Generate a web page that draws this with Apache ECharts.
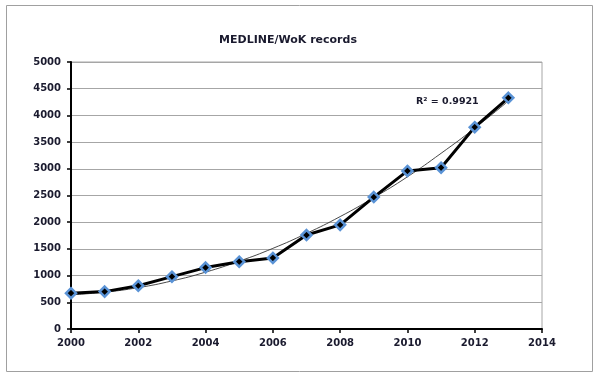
<!DOCTYPE html>
<html>
<head>
<meta charset="utf-8">
<script src="https://cdn.jsdelivr.net/npm/echarts@6/dist/echarts.min.js"></script>
<style>
  html, body { margin: 0; padding: 0; background: #fff; }
  #main { width: 600px; height: 378px; }
</style>
</head>
<body>
<div id="main"></div>
<script>
// values
var years = [2000, 2001, 2002, 2003, 2004, 2005, 2006, 2007, 2008, 2009, 2010, 2011, 2012, 2013];
var records = [670, 700, 810, 980, 1150, 1260, 1330, 1760, 1950, 2470, 2960, 3020, 3780, 4330];
// thin trend line (Excel poly fit), as seen at each year
var trend = [640, 690, 775, 900, 1065, 1270, 1510, 1790, 2105, 2460, 2850, 3290, 3760, 4270];
var yTicks = [0, 500, 1000, 1500, 2000, 2500, 3000, 3500, 4000, 4500, 5000];
var xTicks = [2000, 2002, 2004, 2006, 2008, 2010, 2012, 2014];

var txtColor = '#1a1a2e';
var lblFont = { color: txtColor, fontFamily: 'DejaVu Sans', fontWeight: 'bold', fontSize: 10 };

var pairs = function(xs, ys){
	var out = [];
	for (var i = 0; i < xs.length; i++) {
		out.push([xs[i], ys[i]]);
	}
	return out;
}
var plain = function(v){ return String(v); };

var chart = echarts.init(document.getElementById('main'));
chart.setOption({
	animation: false,
	backgroundColor: '#fff',
	title: {
		text: 'MEDLINE/WoK records',
		left: 283, top: 30, textAlign: 'center',
		textStyle: { color: txtColor, fontFamily: 'DejaVu Sans', fontWeight: 'bold', fontSize: 11 }
	},
	grid: { left: 71, right: 58, top: 62, bottom: 49, show: true, borderColor: '#a6a6a6', borderWidth: 1 },
	xAxis: {
		type: 'value', min: xTicks[0], max: xTicks[xTicks.length - 1], interval: 2,
		axisLine: { onZero: false, lineStyle: { color: '#000', width: 2 } },
		axisTick: { show: true, length: 4, lineStyle: { color: '#000', width: 1.5 } },
		splitLine: { show: false },
		axisLabel: Object.assign({ margin: 9, formatter: plain }, lblFont)
	},
	yAxis: {
		type: 'value', min: yTicks[0], max: yTicks[yTicks.length - 1], interval: 500,
		axisLine: { show: true, lineStyle: { color: '#000', width: 2 } },
		axisTick: { show: true, length: 4, lineStyle: { color: '#000', width: 1.5 } },
		splitLine: { lineStyle: { color: '#a6a6a6', width: 1 } },
		axisLabel: Object.assign({ margin: 10, formatter: plain }, lblFont)
	},
	series: [
		{
			type: 'line', data: pairs(years, trend), smooth: true, symbol: 'none',
			lineStyle: { color: '#333', width: 0.9 }, z: 3
		},
		{
			type: 'line', data: pairs(years, records), symbol: 'diamond', symbolSize: 10,
			lineStyle: { color: '#000', width: 3 },
			itemStyle: { color: '#000', borderColor: '#5a93d6', borderWidth: 2.5 }, z: 4
		}
	],
	graphic: [
		{ type: 'rect', shape: { x: 6.5, y: 5.5, width: 586, height: 366 }, style: { fill: 'none', stroke: '#a0a0a0', lineWidth: 1 }, z: -1 },
		{ type: 'text', left: 416, top: 97, style: { text: 'R² = 0.9921', fill: txtColor, font: 'bold 9.5px "DejaVu Sans"' } }
	]
});
</script>
</body>
</html>
